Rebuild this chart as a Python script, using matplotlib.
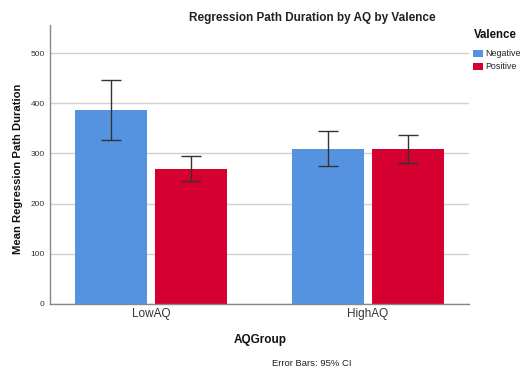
import matplotlib
matplotlib.use("Agg")
import matplotlib.pyplot as plt
from matplotlib.patches import Rectangle
import numpy as np

plt.rcParams['font.family'] = ['Liberation Sans', 'DejaVu Sans']

groups = ["LowAQ", "HighAQ"]
series = ["Negative", "Positive"]
means = {"Negative": [386, 309], "Positive": [269, 308]}
ci_low = {"Negative": [327, 276], "Positive": [245, 281]}
ci_high = {"Negative": [446, 344], "Positive": [294, 337]}
colors = {"Negative": "#5592E0", "Positive": "#D5002F"}
yticks = [0, 100, 200, 300, 400, 500]

fig = plt.figure(figsize=(5.2, 3.72), dpi=100)
ax = fig.add_axes([50/520, 1-304/372, (469-50)/520, (304-25)/372])

x = np.arange(len(groups))
width = 0.332
offsets = {"Negative": -0.184, "Positive": 0.184}
for s in series:
    m = np.array(means[s])
    lo = m - np.array(ci_low[s])
    hi = np.array(ci_high[s]) - m
    ax.bar(x + offsets[s], m, width, color=colors[s], label=s, zorder=2)
    ax.errorbar(x + offsets[s], m, yerr=[lo, hi], fmt='none', ecolor='#333333',
                elinewidth=1.0, capsize=7.2, capthick=1.0, zorder=3)

ax.set_xlim(-0.465, 1.465)
ax.set_ylim(0, 556)
ax.set_yticks(yticks)
ax.set_yticklabels([str(t) for t in yticks], fontsize=6, color='#333333')
ax.set_xticks(x)
ax.set_xticklabels(groups, fontsize=8.5, color='#333333')
ax.tick_params(axis='both', length=0, pad=4)
ax.tick_params(axis='x', pad=3)
ax.yaxis.grid(True, color='#D0D0D0', linewidth=1.0, zorder=0)
ax.set_axisbelow(True)
for sp in ['top', 'right']:
    ax.spines[sp].set_visible(False)
for sp in ['left', 'bottom']:
    ax.spines[sp].set_color('#888888')
    ax.spines[sp].set_linewidth(1.0)

fig.text(312/520, 1-18/372, "Regression Path Duration by AQ by Valence",
         ha='center', va='center', fontsize=8.5, fontweight='bold', color='#222222')
fig.text(18/520, 1-169/372, "Mean Regression Path Duration", rotation=90,
         ha='center', va='center', fontsize=8.1, fontweight='bold', color='#111111')
fig.text(260/520, 1-340/372, "AQGroup", ha='center', va='center',
         fontsize=8.5, fontweight='bold', color='#111111')
fig.text(312/520, 1-363/372, "Error Bars: 95% CI", ha='center', va='center',
         fontsize=6.8, color='#222222')

# legend (drawn manually in figure pixel positions)
fig.text(474/520, 1-35/372, "Valence", ha='left', va='center',
         fontsize=8.3, fontweight='bold', color='#111111')
leg_y = {"Negative": 53.5, "Positive": 66.5}
for s in series:
    yc = leg_y[s]
    fig.patches.append(Rectangle((473/520, 1-(yc+3.5)/372), 10/520, 7.5/372,
                                 transform=fig.transFigure, facecolor=colors[s],
                                 edgecolor='none'))
    fig.text(485/520, 1-yc/372, s, ha='left', va='center', fontsize=6.4,
             color='#222222')

fig.savefig("out.png", dpi=100)
